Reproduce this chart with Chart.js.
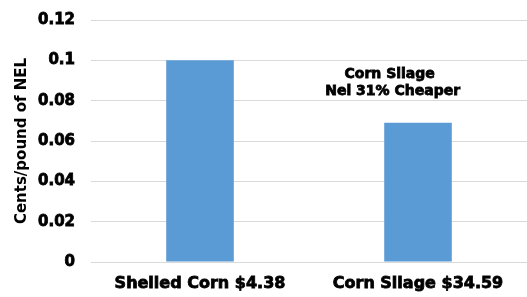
<!DOCTYPE html>
<html><head><meta charset="utf-8">
<script src="https://cdn.jsdelivr.net/npm/chart.js@4/dist/chart.umd.min.js"></script>
<style>html,body{margin:0;padding:0;background:#fff}#wrap{width:527px;height:297px}</style>
</head><body><div id="wrap"><canvas id="c"></canvas></div>
<script>
const categories = ["Shelled Corn $4.38", "Corn Silage $34.59"];
const values = [0.1, 0.069];
const yTicks = [0, 0.02, 0.04, 0.06, 0.08, 0.1, 0.12];
const yTitle = "Cents/pound of NEL";
const noteLines = ["Corn Silage", "Nel 31% Cheaper"];

const FONT = "'DejaVu Sans', sans-serif";
const notePlugin = {
  id: 'note',
  afterDatasetsDraw(chart) {
    const {ctx, scales} = chart;
    const x = scales.x.getPixelForValue(0.87);
    const y1 = scales.y.getPixelForValue(0.093);
    const y2 = scales.y.getPixelForValue(0.0845);
    ctx.save();
    ctx.font = "bold 14px " + FONT;
    ctx.fillStyle = "#000";
    ctx.strokeStyle = "#000";
    ctx.lineWidth = 0.8;
    ctx.textAlign = "center";
    ctx.textBaseline = "middle";
    ctx.fillText(noteLines[0], x, y1);
    ctx.strokeText(noteLines[0], x, y1);
    ctx.fillText(noteLines[1], x + 3, y2);
    ctx.strokeText(noteLines[1], x + 3, y2);
    ctx.restore();
  }
};

const tickFont = { family: FONT, size: 15, weight: 'bold' };
new Chart(document.getElementById('c'), {
  type: 'bar',
  data: { labels: categories, datasets: [{ data: values, backgroundColor: '#5b9bd5', barPercentage: 0.31, categoryPercentage: 1 }] },
  options: {
    responsive: true, maintainAspectRatio: false, animation: false,
    layout: { padding: { left: 4, right: 0, top: 20, bottom: 0 } },
    plugins: { legend: { display: false }, tooltip: { enabled: false } },
    scales: {
      x: {
        grid: { display: false, drawTicks: false },
        border: { display: true, color: '#d9d9d9' },
        afterFit(scale) { scale.height = 35; },
        ticks: { color: '#000', font: { family: FONT, size: 16, weight: 'bold' }, padding: 12, maxRotation: 0, textStrokeColor: '#000', textStrokeWidth: 0.8 }
      },
      y: {
        min: 0, max: 0.12,
        afterBuildTicks(scale) { scale.ticks = yTicks.map(v => ({ value: v })); },
        afterFit(scale) { scale.paddingTop = 0; scale.paddingBottom = 0; },
        grid: { color: '#d9d9d9', drawTicks: false },
        border: { display: false },
        ticks: { color: '#000', font: tickFont, padding: 16, textStrokeColor: '#000', textStrokeWidth: 0.8,
                 callback: v => String(v) },
        title: { display: true, text: yTitle, color: '#000', font: { family: FONT, size: 15, weight: 'bold' }, padding: { top: 9, bottom: -9 } }
      }
    }
  },
  plugins: [notePlugin]
});
</script></body></html>
